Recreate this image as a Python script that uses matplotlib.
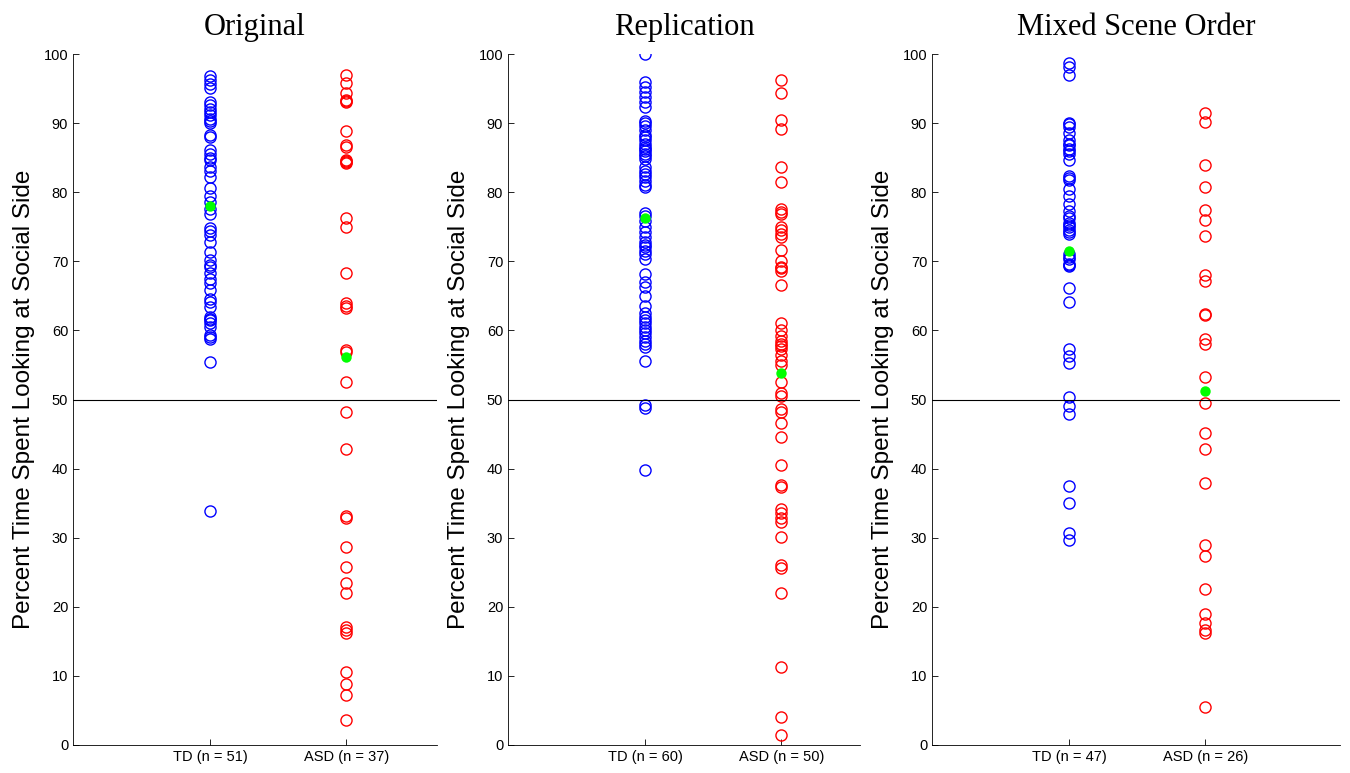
import matplotlib
matplotlib.use('Agg')
import matplotlib.pyplot as plt
import numpy as np

# ================== data =================
titles = ['Original', 'Replication', 'Mixed Scene Order']
group_labels = [['TD (n = 51)', 'ASD (n = 37)'],
                ['TD (n = 60)', 'ASD (n = 50)'],
                ['TD (n = 47)', 'ASD (n = 26)']]

orig_td = [96.8, 96.3, 95.7, 95.1, 93.1, 92.6, 92.1, 91.6, 91.1, 90.6, 90.0,
           88.3, 88.0, 86.1, 85.6, 85.0, 84.7, 83.7, 83.1, 82.2, 80.6, 79.4,
           78.6, 77.5, 76.9, 74.8, 74.4, 73.8, 72.8, 71.4, 70.2, 69.5, 69.2,
           68.3, 67.5, 66.8, 65.8, 64.6, 64.1, 63.4, 62.0, 61.7, 61.5, 61.1,
           60.5, 59.3, 59.1, 58.8, 55.4, 33.8, 90.3]
orig_asd = [97.0, 95.8, 94.3, 93.3, 93.1, 93.2, 88.8, 86.6, 86.8, 84.7, 84.4,
            84.2, 76.2, 75.0, 68.3, 63.9, 63.5, 63.2, 57.2, 56.9, 52.6, 48.2,
            42.9, 33.1, 32.8, 28.7, 25.8, 23.4, 22.0, 17.1, 16.6, 16.2, 10.6,
            8.9, 7.2, 3.6, 84.5]

repl_td = [100.0, 95.9, 95.2, 94.5, 93.8, 93.0, 92.3, 90.3, 90.0, 89.6, 89.0,
           88.3, 88.0, 87.5, 87.0, 86.6, 86.3, 86.0, 85.6, 85.3, 84.8, 83.6,
           83.1, 82.6, 82.2, 81.6, 81.1, 80.8, 77.0, 76.5, 75.8, 75.0, 74.2,
           73.5, 72.8, 72.4, 72.0, 71.5, 71.0, 70.3, 68.2, 67.0, 66.3, 65.0,
           63.5, 62.5, 62.0, 61.5, 61.0, 60.5, 60.0, 59.6, 59.0, 58.5, 58.0,
           57.6, 55.5, 49.2, 48.8, 39.8]
repl_asd = [96.2, 94.3, 90.5, 89.2, 83.7, 81.5, 77.6, 77.2, 76.8, 75.0, 74.5,
            74.0, 73.5, 71.6, 70.0, 69.2, 69.0, 68.6, 66.5, 61.0, 60.0, 59.2,
            58.5, 58.0, 57.8, 57.3, 56.5, 55.5, 55.0, 52.5, 51.0, 50.5, 48.6,
            48.2, 46.6, 44.6, 40.5, 37.6, 37.4, 34.2, 33.6, 32.8, 32.2, 30.1,
            26.0, 25.6, 22.0, 11.3, 4.1, 1.4]

mixed_td = [98.7, 98.1, 96.9, 90.0, 89.8, 89.5, 88.6, 87.5, 87.0, 86.8, 86.2,
            86.0, 85.6, 84.6, 82.3, 82.0, 81.8, 80.4, 79.5, 78.3, 77.3, 76.6,
            76.2, 75.5, 75.2, 75.0, 74.5, 74.2, 74.0, 71.0, 70.6, 70.3, 69.6,
            69.4, 69.3, 66.1, 64.1, 57.3, 56.3, 55.3, 50.3, 49.1, 47.9, 37.5,
            35.0, 30.7, 29.6]
mixed_asd = [91.5, 90.2, 83.9, 80.8, 77.4, 76.0, 73.6, 68.0, 67.2, 62.4, 62.2,
             58.8, 58.0, 53.3, 49.5, 45.1, 42.9, 37.9, 29.0, 27.3, 22.6, 19.0,
             17.6, 16.6, 16.2, 5.5]

td_means = [78.0, 76.3, 71.5]
asd_means = [56.1, 53.8, 51.3]

td_data = [orig_td, repl_td, mixed_td]
asd_data = [orig_asd, repl_asd, mixed_asd]

# axes boxes in figure pixels (left, right)
W, H = 1350, 773
boxes = [(73, 437), (508, 860), (932, 1340)]
top_px, bot_px = 54, 745

fig = plt.figure(figsize=(W / 100, H / 100), dpi=100)

for i in range(3):
    l, r = boxes[i]
    ax = fig.add_axes([l / W, (H - bot_px) / H, (r - l) / W, (bot_px - top_px) / H])
    ax.set_xlim(-0.01, (r - l) / 136.0 - 0.01)
    ax.set_ylim(0, 100)

    ax.plot(np.ones(len(td_data[i])), td_data[i], 'o', mfc='none', mec='#0000ff',
            ms=8, mew=1.0)
    ax.plot(2 * np.ones(len(asd_data[i])), asd_data[i], 'o', mfc='none', mec='#ff0000',
            ms=8, mew=1.0)
    ax.plot([1, 2], [td_means[i], asd_means[i]], 'o', color='#00ff00', ms=7.5, mec='none')
    ax.axhline(50, color='black', lw=0.8)

    ax.set_xticks([1, 2])
    ax.set_xticklabels(group_labels[i], fontsize=10.5, family='Liberation Sans')
    ax.set_yticks(np.arange(0, 101, 10))
    ax.set_yticklabels([str(v) for v in range(0, 101, 10)], fontsize=10.5,
                       family='Liberation Sans')
    ax.tick_params(direction='in', length=4, width=0.6)
    for s in ['top', 'right']:
        ax.spines[s].set_visible(False)
    for s in ['left', 'bottom']:
        ax.spines[s].set_linewidth(0.6)
    ax.set_ylabel('Percent Time Spent Looking at Social Side', fontsize=17.5,
                  family='Liberation Sans', labelpad=6)
    ax.set_title(titles[i], fontsize=22, family='Liberation Serif', pad=14)

fig.savefig('out.png', dpi=100)
